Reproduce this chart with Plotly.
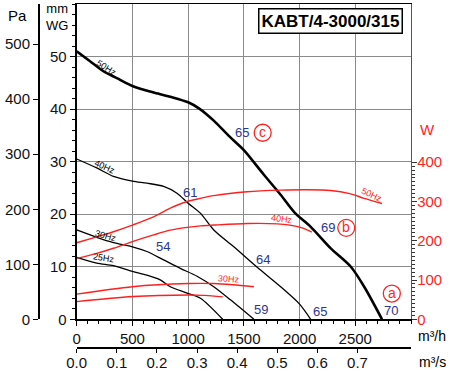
import plotly.graph_objects as go

# ---------------- data (m3/h vs mm WG / W) ----------------
q50 = [0, 120, 240, 360, 500, 700, 850, 1000, 1100, 1230, 1370, 1500, 1680, 1830, 1960, 2100, 2280, 2460, 2580, 2740]
p50 = [51.0, 49.1, 47.2, 45.9, 44.4, 43.1, 42.3, 41.3, 40.1, 37.8, 34.8, 32.2, 27.5, 23.7, 20.2, 17.6, 13.5, 10.0, 6.2, 0]

q40 = [0, 180, 330, 500, 630, 780, 900, 1000, 1110, 1230, 1410, 1620, 1830, 2000, 2100]
p40 = [30.5, 28.8, 27.2, 26.3, 25.9, 25.3, 24.0, 22.1, 20.2, 17.0, 13.8, 9.9, 6.2, 2.9, 0]

q30 = [0, 180, 330, 500, 630, 780, 930, 1080, 1230, 1380, 1590]
p30 = [17.0, 15.6, 14.6, 13.8, 12.9, 11.3, 9.7, 8.2, 6.2, 3.7, 0]

q25 = [0, 180, 330, 500, 630, 750, 840, 990, 1110, 1310]
p25 = [11.8, 10.7, 10.2, 9.1, 8.4, 7.5, 6.2, 5.0, 4.0, 0]

qw50 = [0, 180, 330, 500, 690, 840, 990, 1110, 1230, 1530, 1830, 2070, 2280, 2450, 2580, 2740]
w50 = [195, 210, 223, 240, 261, 283, 300, 308, 315, 325, 329, 330, 328, 320, 308, 295]

qw40 = [0, 180, 330, 500, 690, 840, 990, 1110, 1230, 1530, 1800, 1950, 2030, 2110]
w40 = [155, 168, 181, 198, 215, 227, 234, 238, 240, 244, 243, 238, 232, 222]

qw30 = [0, 500, 1000, 1230, 1400, 1590]
w30 = [64, 83, 91, 91, 88, 83]

qw25 = [0, 500, 1000, 1150, 1310]
w25 = [45, 58, 62, 61, 57]

x_ticks = [0, 500, 1000, 1500, 2000, 2500]
mmwg_ticks = [0, 10, 20, 30, 40, 50]
pa_ticks = [0, 100, 200, 300, 400, 500]
w_ticks = [0, 100, 200, 300, 400]
ms_ticks = [0.0, 0.1, 0.2, 0.3, 0.4, 0.5, 0.6, 0.7]

# noise labels (value, q, p)
noise_lbl = ["65", "61", "54", "64", "59", "69", "65", "70"]
noise_q = [1485, 1018, 775, 1673, 1655, 2257, 2185, 2823]
noise_p = [35.5, 24.1, 13.8, 11.3, 1.8, 17.4, 1.4, 1.6]

circ_lbl = ["c", "b", "a"]
circ_q = [1669, 2419, 2828]
circ_p = [35.5, 17.4, 4.9]

RED = "#ff1f1f"
BLUE = "#2b3596"
FONT = "Liberation Sans, Arial, sans-serif"

fig = go.Figure()

for q, p, w in [(q50, p50, 2.6), (q40, p40, 1.3), (q30, p30, 1.3), (q25, p25, 1.3)]:
    fig.add_trace(go.Scatter(x=q, y=p, mode="lines", line=dict(color="black", width=w, shape="spline", smoothing=0.8),
                             xaxis="x", yaxis="y", hoverinfo="skip"))

for q, w in [(qw50, w50), (qw40, w40), (qw30, w30), (qw25, w25)]:
    fig.add_trace(go.Scatter(x=q, y=w, mode="lines", line=dict(color=RED, width=1.4, shape="spline", smoothing=0.8),
                             xaxis="x", yaxis="y3", hoverinfo="skip"))

# invisible trace so the secondary (m3/s, Pa) axes get drawn
fig.add_trace(go.Scatter(x=[None], y=[None], mode="lines", xaxis="x2", yaxis="y2", hoverinfo="skip", showlegend=False))

annotations = []
for t, q, p in zip(noise_lbl, noise_q, noise_p):
    annotations.append(dict(x=q, y=p, xref="x", yref="y", text=t, showarrow=False,
                            font=dict(size=13, color=BLUE, family=FONT)))

shapes = []
for t, q, p in zip(circ_lbl, circ_q, circ_p):
    shapes.append(dict(type="circle", xref="x", yref="y", xsizemode="pixel", ysizemode="pixel",
                       xanchor=q, yanchor=p, x0=-8.5, x1=8.5, y0=-8.5, y1=8.5,
                       line=dict(color=RED, width=1.3), fillcolor="white", layer="above"))
    annotations.append(dict(x=q, y=p, xref="x", yref="y", text=t, showarrow=False, yshift=1,
                            font=dict(size=14, color=RED, family=FONT)))

# Hz labels on pressure curves
for t, q, p, a in [("50Hz", 272, 47.9, 32), ("40Hz", 255, 29.0, 24), ("30Hz", 264, 15.9, 16), ("25Hz", 246, 11.7, 9)]:
    annotations.append(dict(x=q, y=p, xref="x", yref="y", text=t, showarrow=False, textangle=a,
                            font=dict(size=9, color="black", family=FONT)))
# Hz labels on power curves
for t, q, w, a in [("50Hz", 2653, 316.7, 25), ("40Hz", 1844, 255.5, 7), ("30Hz", 1368, 102.7, 4)]:
    annotations.append(dict(x=q, y=w, xref="x", yref="y3", text=t, showarrow=False, textangle=a,
                            font=dict(size=9, color=RED, family=FONT)))

W_, H_ = 450, 371
ML, MR, MT, MB = 38, 39, 4, 24
PW, PH = W_ - ML - MR, H_ - MT - MB


def px(x, y):
    return (x - ML) / PW, (H_ - MB - y) / PH


# title box
tx, ty = px(330.5, 21.5)
annotations.append(dict(x=tx, y=ty, xref="paper", yref="paper", text="<b>KABT/4-3000/315</b>",
                        xanchor="center", yanchor="middle",
                        showarrow=False, bordercolor="black", borderwidth=1.5, borderpad=2, bgcolor="white",
                        font=dict(size=17, color="black", family=FONT)))

for t, x, y, c, s in [("Pa", 17, 16, "black", 15), ("mm<br>WG", 57, 17, "black", 13),
                      ("W", 427, 129, RED, 15), ("m³/h", 432, 336, "black", 14), ("m³/s", 432, 362, "black", 14)]:
    xx, yy = px(x, y)
    annotations.append(dict(x=xx, y=yy, xref="paper", yref="paper", text=t, showarrow=False,
                            xanchor="center", yanchor="middle", font=dict(size=s, color=c, family=FONT)))

x0dom = (76.7 - ML) / PW
y0dom = (H_ - MB - 319.3) / PH

fig.update_layout(
    width=W_, height=H_, margin=dict(l=ML, r=MR, t=MT, b=MB, autoexpand=False),
    paper_bgcolor="white", plot_bgcolor="white", showlegend=False,
    font=dict(family=FONT, size=15, color="#111"),
    xaxis=dict(domain=[x0dom, 1], range=[0, 3000], tickvals=x_ticks, ticks="outside", ticklen=5,
               tickcolor="black", showline=True, linecolor="black", linewidth=1.5, mirror=True,
               showgrid=True, gridcolor="#8a8a8a", gridwidth=1, zeroline=False, automargin=False,
               minor=dict(dtick=100, ticks="outside", ticklen=3, tickcolor="black", showgrid=False),
               tickfont=dict(size=15), anchor="y"),
    xaxis2=dict(overlaying="x", anchor="free", position=0, side="bottom", range=[0, 3000 / 3600],
                tickvals=ms_ticks, ticktext=[f"{v:.1f}" for v in ms_ticks], ticks="outside", ticklen=4,
                tickcolor="black", showline=True, linecolor="black", linewidth=1.5, showgrid=False,
                zeroline=False, tickfont=dict(size=15), automargin=False, ticklabelstandoff=-3),
    yaxis=dict(domain=[y0dom, 1], range=[0, 60], tickvals=mmwg_ticks, ticks="outside", ticklen=5,
               tickcolor="black", showline=True, linecolor="black", linewidth=2,
               showgrid=True, gridcolor="#8a8a8a", gridwidth=1, zeroline=False, automargin=False,
               minor=dict(dtick=2, ticks="outside", ticklen=3, tickcolor="black", showgrid=False),
               tickfont=dict(size=15), anchor="x"),
    yaxis2=dict(overlaying="y", anchor="free", position=0, side="left", range=[0, 573],
                tickvals=pa_ticks, ticks="outside", ticklen=5, tickcolor="black", showline=True,
                linecolor="black", linewidth=1.5, showgrid=False, zeroline=False, tickfont=dict(size=15),
                automargin=False),
    yaxis3=dict(overlaying="y", anchor="x", side="right", range=[0, 803], tickvals=w_ticks,
                ticks="outside", ticklen=5, tickcolor="#333", showline=True, linecolor="#555",
                linewidth=1.2, showgrid=False, zeroline=False, tickfont=dict(size=15, color=RED),
                automargin=False, ticklabelstandoff=-3,
                minor=dict(tickvals=list(range(0, 401, 10)), ticks="outside", ticklen=3, tickcolor="#333")),
    annotations=annotations, shapes=shapes,
)

fig.write_html("out.html", config={"displayModeBar": False, "staticPlot": True},
               post_script="document.body.style.margin='0px';")
